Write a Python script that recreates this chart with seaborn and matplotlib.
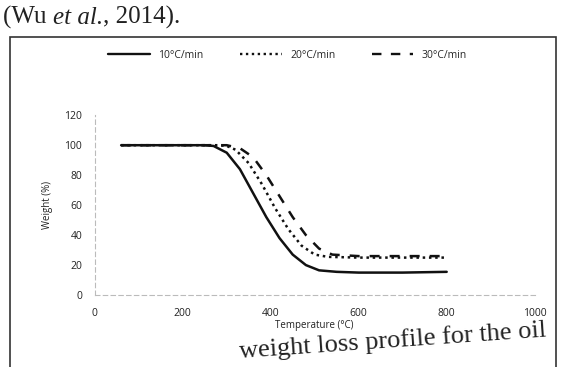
import matplotlib
matplotlib.use('Agg')
import pandas as pd
import matplotlib.pyplot as plt
import seaborn as sns
from matplotlib.patches import Rectangle

# values
rates = ['10°C/min', '20°C/min', '30°C/min']
t10 = [60, 150, 250, 270, 300, 330, 360, 390, 420, 450, 480, 510, 550, 600, 700, 800]
w10 = [100, 100, 100, 99.5, 95, 84, 68, 52, 38, 27, 20, 16.5, 15.5, 15, 15, 15.5]
t20 = [60, 150, 250, 280, 300, 320, 350, 380, 410, 440, 470, 500, 530, 600, 700, 800]
w20 = [100, 100, 100, 100, 99.5, 97, 88, 74, 58, 44, 33, 27, 25.5, 25, 25, 25]
t30 = [60, 150, 250, 300, 330, 360, 390, 420, 450, 480, 510, 540, 600, 700, 800]
w30 = [100, 100, 100, 100, 98, 92, 80, 66, 52, 40, 31, 27, 26, 26, 26]
xticks = [0, 200, 400, 600, 800, 1000]
yticks = [0, 20, 40, 60, 80, 100, 120]

df = pd.concat([
    pd.DataFrame({'Temperature': t10, 'Weight': w10, 'rate': rates[0]}),
    pd.DataFrame({'Temperature': t20, 'Weight': w20, 'rate': rates[1]}),
    pd.DataFrame({'Temperature': t30, 'Weight': w30, 'rate': rates[2]}),
])

sns.set_style('white')
plt.rcParams['font.family'] = ['Open Sans', 'DejaVu Sans']

fig = plt.figure(figsize=(5.64, 3.67), dpi=100)
ax = fig.add_axes([0.168, 0.196, 0.78, 0.49])

sns.lineplot(data=df, x='Temperature', y='Weight', hue='rate', style='rate',
             palette=['#111111'] * 3, dashes=[(None, None), (1, 1.5), (4, 4)],
             linewidth=1.8, sort=False, ax=ax, legend=False)

ax.set_xlim(0, 1000)
ax.set_ylim(0, 120)
ax.set_xticks(xticks)
ax.set_yticks(yticks)
ax.tick_params(length=0, labelsize=7.5, colors='#222222', pad=9)
for s in ['top', 'right']:
    ax.spines[s].set_visible(False)
for s in ['left', 'bottom']:
    ax.spines[s].set_color('#bbbbbb')
    ax.spines[s].set_linestyle((0, (4, 3)))
    ax.spines[s].set_linewidth(0.8)
ax.set_xlabel('Temperature (°C)', fontsize=7, color='#222222', labelpad=1)
ax.set_ylabel('Weight (%)', fontsize=7, color='#222222', labelpad=8)

handles = [plt.Line2D([], [], color='#111111', lw=1.7, ls=ls) for ls in
           ['-', (0, (1, 1.5)), (0, (4, 4))]]
fig.legend(handles, rates, loc='center', bbox_to_anchor=(0.51, 0.85), ncol=3,
           frameon=False, fontsize=7.5, handlelength=4, columnspacing=3.5)

# chart border and surrounding page text
fig.patches.append(Rectangle((0.018, -0.2), 0.967, 1.1, transform=fig.transFigure,
                             fill=False, ec='#333333', lw=1.2))
serif = dict(fontsize=18, family='Liberation Serif', color='#222222',
             va='baseline', ha='left')
renderer = fig.canvas.get_renderer()
x = 0.005
for part, st in [('(Wu ', 'normal'), ('et al.', 'italic'), (', 2014).', 'normal')]:
    t = fig.text(x, 0.935, part, style=st, **serif)
    bb = t.get_window_extent(renderer)
    x = fig.transFigure.inverted().transform((bb.x1, 0))[0]
fig.text(0.97, 0.01, 'weight loss profile for the oil', fontsize=19,
         family='Liberation Serif', color='#222222', ha='right', va='bottom',
         rotation=4)

plt.savefig('out.png', dpi=100)
